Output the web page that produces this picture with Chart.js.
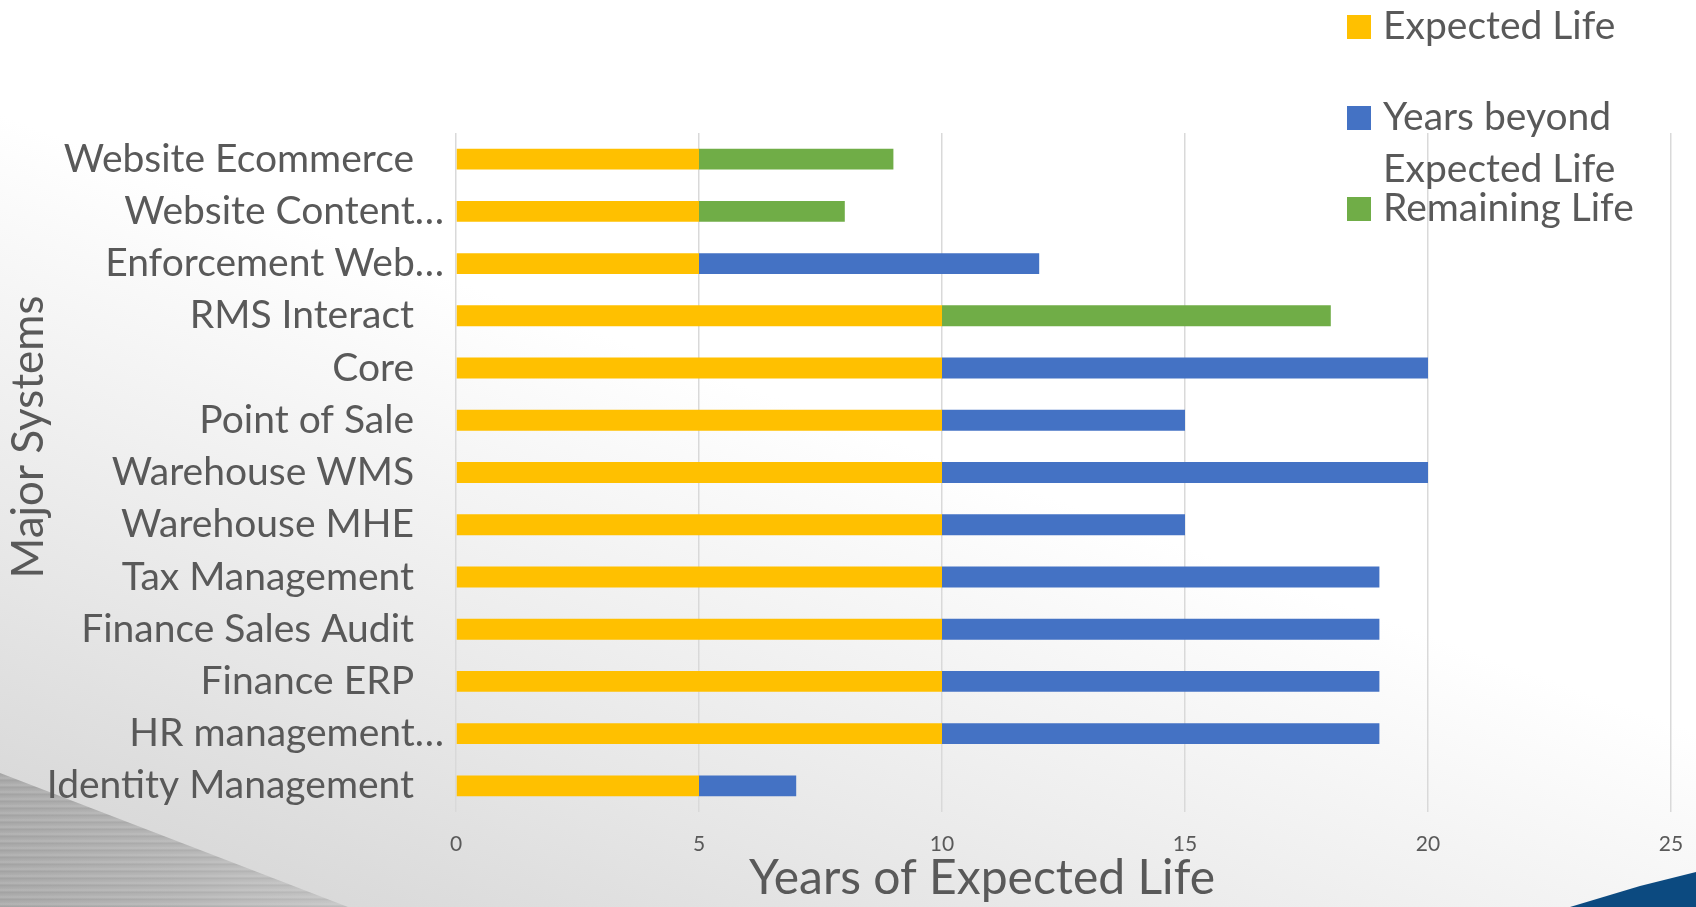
<!DOCTYPE html>
<html>
<head>
<meta charset="utf-8">
<script src="https://cdn.jsdelivr.net/npm/chart.js@4.4.1/dist/chart.umd.min.js"></script>
<style>
  html, body { margin: 0; padding: 0; width: 1696px; height: 907px; overflow: hidden; }
  body {
    position: relative;
    background: linear-gradient(200deg, #ffffff 0%, #ffffff 48%, #e6e6e6 78%, #d2d2d2 100%);
  }
  .tri-gray {
    position: absolute; left: 0; top: 0; width: 1696px; height: 907px;
    clip-path: polygon(0px 773px, 348px 907px, 0px 907px);
    background:
      repeating-linear-gradient(180deg, rgba(255,255,255,0.10) 0px, rgba(255,255,255,0.10) 2px, rgba(0,0,0,0.05) 3px, rgba(0,0,0,0.0) 5px, rgba(255,255,255,0.06) 7px),
      linear-gradient(90deg, #a9a9a9 0%, #b4b4b4 10%, #c4c4c4 20%, #d0d0d0 22%);
  }
  .tri-blue {
    position: absolute; left: 0; top: 0; width: 1696px; height: 907px;
    clip-path: polygon(1570px 907px, 1640px 886px, 1696px 872px, 1696px 907px);
    background: #0c4a80;
  }
  canvas { position: absolute; left: 0; top: 0; }
</style>
</head>
<body>
<div class="tri-gray"></div>
<div class="tri-blue"></div>
<canvas id="c" width="1696" height="907"></canvas>
<script>
const categories = [
  "Website Ecommerce",
  "Website Content…",
  "Enforcement Web…",
  "RMS Interact",
  "Core",
  "Point of Sale",
  "Warehouse WMS",
  "Warehouse MHE",
  "Tax Management",
  "Finance Sales Audit",
  "Finance ERP",
  "HR management…",
  "Identity Management"
];
const expectedLife  = [5, 5, 5, 10, 10, 10, 10, 10, 10, 10, 10, 10, 5];
const yearsBeyond   = [null, null, 7, null, 10, 5, 10, 5, 9, 9, 9, 9, 2];
const remainingLife = [4, 3, null, 8, null, null, null, null, null, null, null, null, null];
const seriesNames = ["Expected Life", "Years beyond Expected Life", "Remaining Life"];
const seriesColors = ["#FFC000", "#4472C4", "#70AD47"];
const xTicks = [0, 5, 10, 15, 20, 25];
const xTitle = "Years of Expected Life";
const yTitle = "Major Systems";

const FONT = "Lato, 'Noto Sans', sans-serif";
const TEXT = "#595959";

const extrasPlugin = {
  id: 'extras',
  afterDraw(chart) {
    const ctx = chart.ctx;
    const a = chart.chartArea;
    ctx.save();
    ctx.fillStyle = TEXT;
    // axis titles
    ctx.font = "48px " + FONT;
    ctx.textAlign = 'center';
    ctx.textBaseline = 'alphabetic';
    ctx.fillText(xTitle, a.left + 526, 894);
    ctx.font = "44px " + FONT;
    ctx.save();
    ctx.translate(43, a.top + 304);
    ctx.rotate(-Math.PI / 2);
    ctx.fillText(yTitle, 0, 0);
    ctx.restore();
    // legend
    ctx.font = "39px " + FONT;
    ctx.textAlign = 'left';
    const maxW = 280;
    chart.data.datasets.forEach((ds, i) => {
      const base = 39 + i * 91;
      ctx.fillStyle = ds.backgroundColor;
      ctx.fillRect(1347, base - 24, 24, 24);
      ctx.fillStyle = TEXT;
      const words = ds.label.split(' ');
      let lines = [], cur = '';
      words.forEach(w => {
        const t = cur ? cur + ' ' + w : w;
        if (ctx.measureText(t).width > maxW && cur) { lines.push(cur); cur = w; } else cur = t;
      });
      lines.push(cur);
      lines.forEach((ln, j) => ctx.fillText(ln, 1383, base + j * 52));
    });
    ctx.restore();
  }
};

new Chart(document.getElementById('c'), {
  type: 'bar',
  data: {
    labels: categories,
    datasets: [
      { label: seriesNames[0], data: expectedLife,  backgroundColor: seriesColors[0] },
      { label: seriesNames[1], data: yearsBeyond,   backgroundColor: seriesColors[1] },
      { label: seriesNames[2], data: remainingLife, backgroundColor: seriesColors[2] }
    ]
  },
  options: {
    indexAxis: 'y',
    responsive: false,
    animation: false,
    events: [],
    datasets: { bar: { barPercentage: 0.4, categoryPercentage: 1.0, borderWidth: 0 } },
    layout: { padding: { top: 133, right: 25, left: 0, bottom: 0 } },
    plugins: { legend: { display: false }, tooltip: { enabled: false } },
    scales: {
      x: {
        stacked: true, min: 0, max: 25,
        afterBuildTicks(s) { s.ticks = xTicks.map(v => ({ value: v })); },
        ticks: { color: TEXT, font: { family: FONT, size: 21 }, padding: 20, maxRotation: 0 },
        grid: { color: '#d9d9d9', lineWidth: 1.5, drawTicks: false },
        border: { display: false },
        afterFit(s) { s.height = 95; s.paddingLeft = 0; s.paddingRight = 0; }
      },
      y: {
        stacked: true,
        ticks: {
          color: TEXT, font: { family: FONT, size: 39 }, padding: 4, autoSkip: false,
          callback(v) { const l = categories[v]; return l.endsWith('…') ? l : l + '   '; }
        },
        grid: { display: false },
        border: { display: false },
        afterFit(s) { s.width = 456; s.paddingTop = 0; s.paddingBottom = 0; }
      }
    }
  },
  plugins: [extrasPlugin]
});
</script>
</body>
</html>
